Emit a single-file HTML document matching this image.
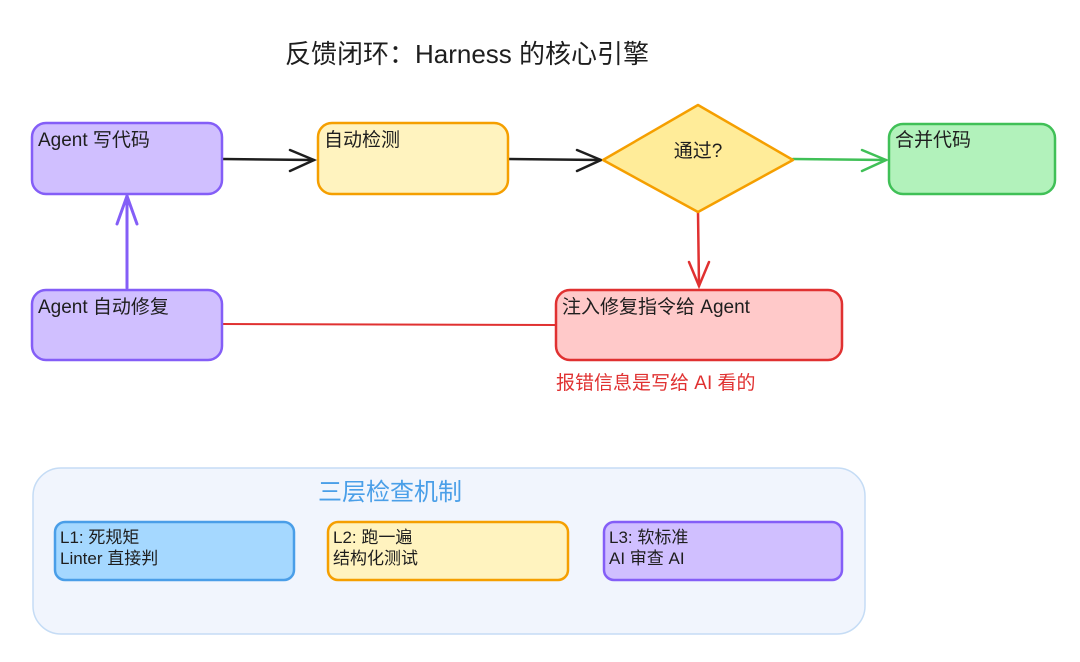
<!DOCTYPE html>
<html><head><meta charset="utf-8"><style>
body{margin:0;background:#fff}
svg text{font-family:"Liberation Sans","Noto Sans CJK SC",sans-serif;fill:#1e1e1e}
</style></head><body>
<svg width="1080" height="657" xmlns="http://www.w3.org/2000/svg">
<text x="467" y="63" font-size="26" text-anchor="middle">反馈闭环：Harness 的核心引擎</text>
<g stroke-width="2.5" stroke-linecap="round" fill="none">
<line x1="222" y1="159" x2="314" y2="160" stroke="#1e1e1e"/>
<polyline points="290,150 314,160 290,171" stroke="#1e1e1e"/>
<line x1="508" y1="159" x2="601" y2="160" stroke="#1e1e1e"/>
<polyline points="577,150 601,160 577,171" stroke="#1e1e1e"/>
<line x1="793" y1="159" x2="886" y2="160" stroke="#40c057"/>
<polyline points="862,150 886,160 862,171" stroke="#40c057"/>
<line x1="698" y1="212" x2="699" y2="286" stroke="#e03131"/>
<polyline points="689,262 699,286 709,262" stroke="#e03131"/>
<line x1="127" y1="288" x2="127" y2="196" stroke="#845ef7" stroke-width="3"/>
<polyline points="117,224 127,196 137,224" stroke="#845ef7" stroke-width="3"/>
<line x1="222" y1="324" x2="556" y2="325" stroke="#e03131" stroke-width="2"/>
</g>
<g stroke-width="2.5">
<rect x="32" y="123" width="190" height="71" rx="14" fill="#d0bfff" stroke="#845ef7"/>
<rect x="318" y="123" width="190" height="71" rx="14" fill="#fff3bf" stroke="#f59f00"/>
<polygon points="603,160 698,105 793,160 698,212" fill="#ffec99" stroke="#f59f00" stroke-linejoin="round"/>
<rect x="889" y="124" width="166" height="70" rx="14" fill="#b2f2bb" stroke="#40c057"/>
<rect x="32" y="290" width="190" height="70" rx="14" fill="#d0bfff" stroke="#845ef7"/>
<rect x="556" y="290" width="286" height="70" rx="14" fill="#ffc9c9" stroke="#e03131"/>
</g>
<g font-size="19">
<text x="38" y="146">Agent 写代码</text>
<text x="324" y="146">自动检测</text>
<text x="698" y="157" text-anchor="middle">通过?</text>
<text x="895" y="146">合并代码</text>
<text x="38" y="313">Agent 自动修复</text>
<text x="562" y="313">注入修复指令给 Agent</text>
<text x="556" y="389" style="fill:#e03131">报错信息是写给 AI 看的</text>
</g>
<rect x="33" y="468" width="832" height="166" rx="28" fill="#f1f5fd" stroke="#c5dcf5" stroke-width="1.5"/>
<text x="318" y="500" font-size="24" style="fill:#4a9fe8">三层检查机制</text>
<g stroke-width="2.5">
<rect x="55" y="522" width="239" height="58" rx="10" fill="#a5d8ff" stroke="#4a9ee8"/>
<rect x="328" y="522" width="240" height="58" rx="10" fill="#fff3bf" stroke="#f59f00"/>
<rect x="604" y="522" width="238" height="58" rx="10" fill="#d0bfff" stroke="#845ef7"/>
</g>
<g font-size="17">
<text x="60" y="543">L1: 死规矩</text><text x="60" y="564">Linter 直接判</text>
<text x="333" y="543">L2: 跑一遍</text><text x="333" y="564">结构化测试</text>
<text x="609" y="543">L3: 软标准</text><text x="609" y="564">AI 审查 AI</text>
</g>
</svg>
</body></html>
